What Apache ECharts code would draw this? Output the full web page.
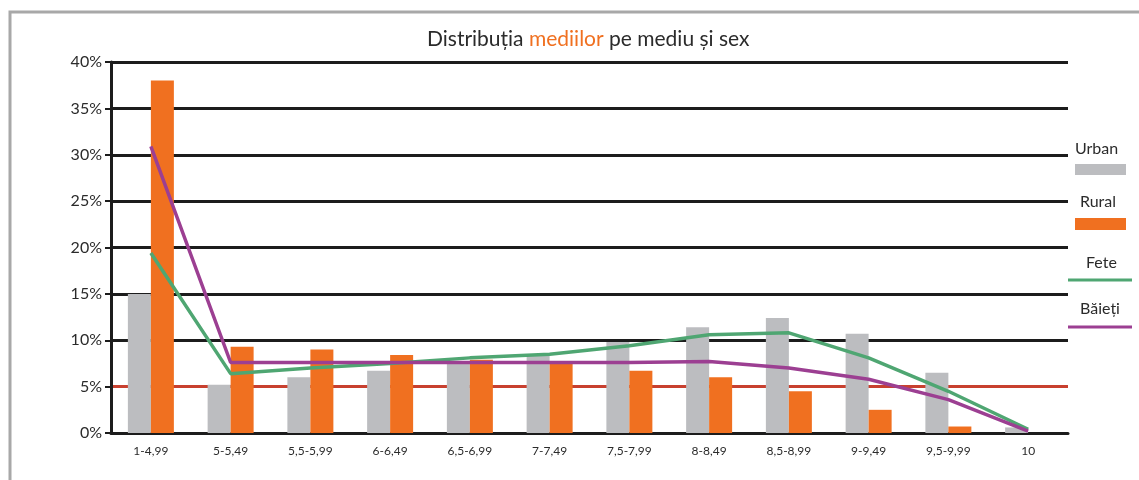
<!DOCTYPE html>
<html>
<head>
<meta charset="utf-8">
<script src="https://cdn.jsdelivr.net/npm/echarts@6/dist/echarts.min.js"></script>
<style>
  html, body { margin: 0; padding: 0; background: #fff; }
  #main { width: 1139px; height: 480px; }
</style>
</head>
<body>
<div id="main"></div>
<script>
// categorii (intervale de medii)
var categories = ['1-4,99', '5-5,49', '5,5-5,99', '6-6,49', '6,5-6,99', '7-7,49',
                  '7,5-7,99', '8-8,49', '8,5-8,99', '9-9,49', '9,5-9,99', '10'];
var urban  = [15.0, 5.2, 6.0, 6.7, 7.7, 8.3, 9.8, 11.4, 12.4, 10.7, 6.5, 0.6];
var rural  = [38.0, 9.3, 9.0, 8.4, 7.9, 7.6, 6.7, 6.0, 4.5, 2.5, 0.7, 0];
var fete   = [19.4, 6.4, 7.0, 7.5, 8.1, 8.5, 9.4, 10.6, 10.8, 8.1, 4.5, 0.4];
var baieti = [30.9, 7.6, 7.6, 7.6, 7.6, 7.6, 7.6, 7.7, 7.0, 5.8, 3.6, 0.2];
var seriesNames = ['Urban', 'Rural', 'Fete', 'Băieți'];

var colors = ['#bcbdc0', '#f07020', '#4fa672', '#9c3f92'];
var font = 'Lato, "Open Sans", sans-serif';

var chartDom = document.getElementById('main');
var myChart = echarts.init(chartDom);

var lineColors = [];
for (var i = 0; i <= 8; i++) lineColors.push(i === 1 ? '#c8402f' : '#1c1c1c');

var option = {
    animation: false,
    textStyle: { fontFamily: font },
    title: {
        text: 'Distribuția {o|mediilor} pe mediu și sex',
        left: 422,
        top: 24,
        textStyle: {
            fontFamily: font,
            fontSize: 21,
            fontWeight: 'normal',
            color: '#2b2b2b',
            rich: {
                o: { fontFamily: font, fontSize: 21, color: '#f07020' }
            }
        }
    },
    grid: { left: 111, right: 71, top: 62, bottom: 47 },
    xAxis: {
        type: 'category',
        data: categories,
        boundaryGap: true,
        axisLine: { lineStyle: { color: '#1c1c1c', width: 3 } },
        axisTick: { show: false },
        axisLabel: { color: '#2b2b2b', fontSize: 12, margin: 12, interval: 0, fontFamily: font }
    },
    yAxis: {
        type: 'value',
        min: 0,
        max: 40,
        interval: 5,
        axisLine: { show: true, lineStyle: { color: '#1c1c1c', width: 3 } },
        axisTick: { show: true, length: 6, lineStyle: { color: '#1c1c1c', width: 2 } },
        axisLabel: { color: '#2b2b2b', fontSize: 16, margin: 9, formatter: '{value}%', fontFamily: font },
        splitLine: { show: true, lineStyle: { color: lineColors, width: 3 } }
    },
    series: [
        {
            name: seriesNames[0], type: 'bar', data: urban,
            barWidth: 23, barGap: '0%',
            itemStyle: { color: colors[0] }, z: 3
        },
        {
            name: seriesNames[1], type: 'bar', data: rural,
            barWidth: 23, barGap: '0%',
            itemStyle: { color: colors[1] }, z: 3
        },
        {
            name: seriesNames[2], type: 'line', data: fete,
            symbol: 'none', lineStyle: { color: colors[2], width: 3.5 }, z: 5
        },
        {
            name: seriesNames[3], type: 'line', data: baieti,
            symbol: 'none', lineStyle: { color: colors[3], width: 3.5 }, z: 5
        }
    ],
    graphic: [
        // chenarul gri
        { type: 'rect', shape: { x: 10, y: 12, width: 1300, height: 600 },
          style: { fill: null, stroke: '#a8a8a8', lineWidth: 3 }, silent: true },
        // legenda (text deasupra simbolului)
        { type: 'text', left: 1075, top: 141, style: { text: seriesNames[0], font: '16px ' + font, fill: '#2b2b2b' } },
        { type: 'rect', shape: { x: 1075, y: 164, width: 51, height: 11 }, style: { fill: colors[0] } },
        { type: 'text', left: 1080, top: 194, style: { text: seriesNames[1], font: '16px ' + font, fill: '#2b2b2b' } },
        { type: 'rect', shape: { x: 1075, y: 218, width: 51, height: 12 }, style: { fill: colors[1] } },
        { type: 'text', left: 1086, top: 255, style: { text: seriesNames[2], font: '16px ' + font, fill: '#2b2b2b' } },
        { type: 'line', shape: { x1: 1068, y1: 280, x2: 1132, y2: 280 }, style: { stroke: colors[2], lineWidth: 3 } },
        { type: 'text', left: 1080, top: 301, style: { text: seriesNames[3], font: '16px ' + font, fill: '#2b2b2b' } },
        { type: 'line', shape: { x1: 1068, y1: 327, x2: 1132, y2: 327 }, style: { stroke: colors[3], lineWidth: 3 } }
    ]
};

myChart.setOption(option);
</script>
</body>
</html>
